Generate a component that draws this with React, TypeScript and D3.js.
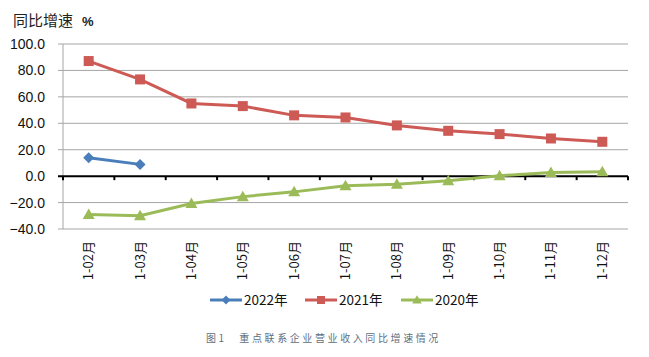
import React from "react";
import * as d3 from "d3";

const categories = ["1-02月", "1-03月", "1-04月", "1-05月", "1-06月", "1-07月", "1-08月", "1-09月", "1-10月", "1-11月", "1-12月"];
const series2022: (number | null)[] = [13.9, 8.9, null, null, null, null, null, null, null, null, null];
const series2021 = [87.1, 73.2, 55.0, 53.0, 46.0, 44.4, 38.4, 34.3, 31.8, 28.5, 26.0];
const series2020 = [-29.0, -30.0, -20.7, -15.5, -11.9, -7.3, -6.1, -3.5, 0.3, 2.8, 3.3];
const yTicks = [100, 80, 60, 40, 20, 0, -20, -40];
const seriesNames = ["2022年", "2021年", "2020年"];
const seriesColors = ["#4a7ebb", "#cd5a55", "#9bbb59"];
const titleText = "同比增速";
const unitText = "%";
const captionText = "图1　重点联系企业营业收入同比增速情况";

const W = 649, H = 357;
const left = 63, right = 628, top = 44, bottom = 229;

export default function App() {
  const x = d3.scaleBand<string>().domain(categories).range([left, right]);
  const y = d3.scaleLinear().domain([-40, 100]).range([bottom, top]);
  const cx = (c: string) => (x(c) as number) + x.bandwidth() / 2;
  const line = d3.line<[string, number | null]>()
    .defined((d) => d[1] !== null)
    .x((d) => cx(d[0]))
    .y((d) => y(d[1] as number));
  const allSeries = [series2022, series2021, series2020];
  const cjk = "'Noto Sans CJK SC', 'Noto Sans', sans-serif";
  const latin = "'Liberation Sans', Arial, sans-serif";

  const marker = (k: number, px: number, py: number, color: string, key: string, s = 1) => {
    if (k === 0) {
      const r = 5.5 * s;
      return <path key={key} d={`M${px},${py - r}L${px + r},${py}L${px},${py + r}L${px - r},${py}Z`} fill={color} />;
    }
    if (k === 1) {
      const r = 5 * s;
      return <rect key={key} x={px - r} y={py - r} width={2 * r} height={2 * r} fill={color} />;
    }
    const r = 6 * s;
    return <path key={key} d={`M${px},${py - r}L${px + r},${py + r * 0.75}L${px - r},${py + r * 0.75}Z`} fill={color} />;
  };

  const legendX = [210, 305, 401];

  return (
    <svg width={W} height={H} style={{ position: "absolute", left: 0, top: 0, background: "#fff" }}>
      <rect x={0} y={0} width={W} height={H} fill="#fff" />
      {/* title */}
      <text x={13} y={26} fontFamily={cjk} fontSize={15} fill="#222">{titleText}</text>
      <text x={82} y={26} fontFamily={latin} fontSize={13} fontWeight="bold" fill="#222">{unitText}</text>
      {/* gridlines */}
      {yTicks.filter((t) => t !== 0).map((t) => (
        <line key={t} x1={left - 5} x2={right} y1={y(t)} y2={y(t)} stroke="#a6a6a6" strokeWidth={1} />
      ))}
      <line x1={left} x2={left} y1={top} y2={bottom} stroke="#a6a6a6" strokeWidth={1} />
      {/* y labels */}
      {yTicks.map((t) => (
        <text key={t} x={45} y={y(t)} dy="0.36em" textAnchor="end" fontFamily={latin} fontSize={14} fill="#111">
          {d3.format(".1f")(t)}
        </text>
      ))}
      {/* zero axis */}
      <line x1={left - 5} x2={right} y1={y(0)} y2={y(0)} stroke="#000" strokeWidth={2} />
      {categories.map((c) => (
        <line key={c} x1={x(c) as number} x2={x(c) as number} y1={y(0)} y2={y(0) + 4} stroke="#000" strokeWidth={2} />
      ))}
      <line x1={right} x2={right} y1={y(0)} y2={y(0) + 4} stroke="#000" strokeWidth={2} />
      {/* x labels */}
      {categories.map((c) => (
        <text key={c} transform={`translate(${cx(c) + 4.5},241) rotate(-90)`} textAnchor="end" fontFamily={cjk} fontSize={13} fill="#111">
          {c}
        </text>
      ))}
      {/* series */}
      {allSeries.map((s, k) => (
        <g key={k}>
          <path d={line(categories.map((c, i) => [c, s[i]] as [string, number | null])) || ""} fill="none" stroke={seriesColors[k]} strokeWidth={3} />
          {s.map((v, i) => (v === null ? null : marker(k, cx(categories[i]), y(v), seriesColors[k], `${k}-${i}`)))}
        </g>
      ))}
      {/* legend */}
      {seriesNames.map((n, k) => (
        <g key={n}>
          <line x1={legendX[k]} x2={legendX[k] + 32} y1={300} y2={300} stroke={seriesColors[k]} strokeWidth={3} />
          {marker(k, legendX[k] + 16, 300, seriesColors[k], "lm" + k, 0.8)}
          <text x={legendX[k] + 34} y={300} dy="0.36em" fontFamily={cjk} fontSize={13.5} fill="#111">{n}</text>
        </g>
      ))}
      {/* caption */}
      <text x={206} y={342} fontFamily={cjk} fontSize={10} letterSpacing={2.6} fill="#5f6f80">{captionText}</text>
    </svg>
  );
}
